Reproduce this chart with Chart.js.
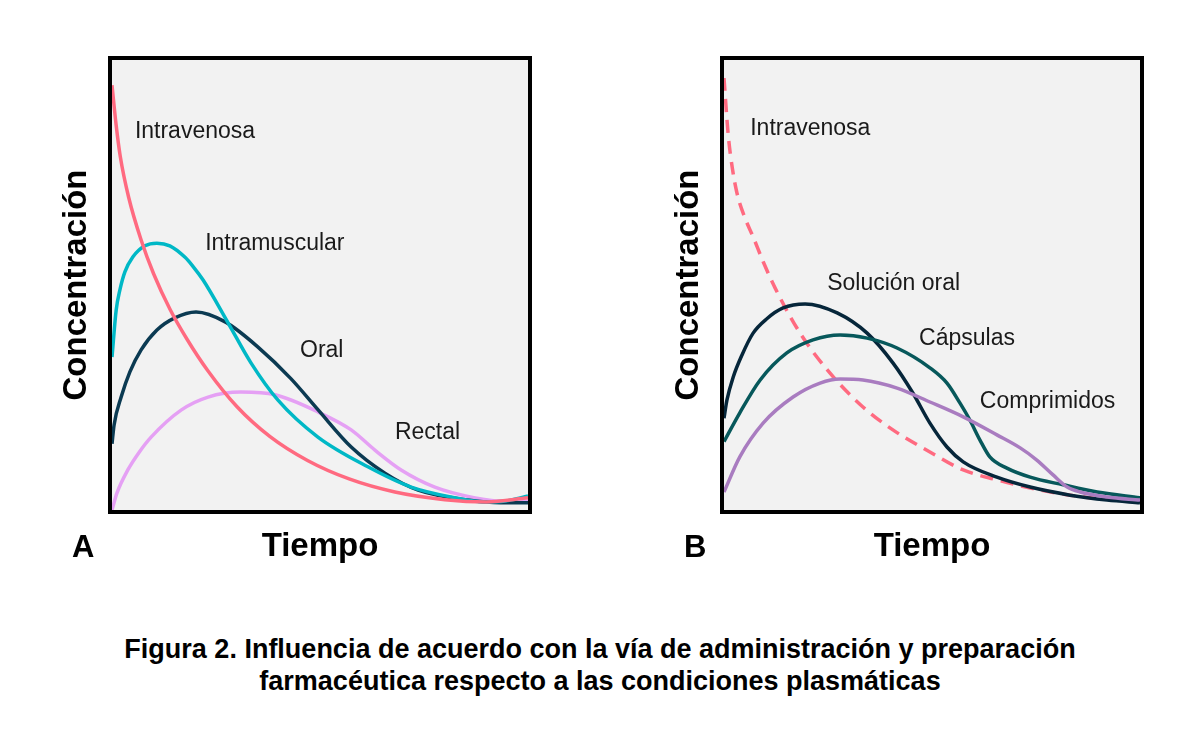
<!DOCTYPE html>
<html lang="es">
<head>
<meta charset="utf-8">
<title>Figura 2</title>
<script src="https://cdn.jsdelivr.net/npm/chart.js@4.4.0/dist/chart.umd.min.js"></script>
<style>
  html, body { margin: 0; padding: 0; background: #fff; width: 1200px; height: 748px; overflow: hidden; }
  canvas { position: absolute; top: 0; }
  #chartA { left: 0; }
  #chartB { left: 612px; }
  .caption { position: absolute; left: 0; width: 1200px; text-align: center; font: bold 27px "Liberation Sans", Arial, sans-serif; color: #000; line-height: 30px; white-space: nowrap; }
</style>
</head>
<body>
<canvas id="chartA" width="600" height="600"></canvas>
<canvas id="chartB" width="588" height="600"></canvas>
<div class="caption" style="top:634px">Figura 2. Influencia de acuerdo con la vía de administración y preparación</div>
<div class="caption" style="top:666px">farmacéutica respecto a las condiciones plasmáticas</div>
<script>
// Panel A: vía de administración (tiempo 0-100, concentración 0-100, unidades relativas)
const ivA_t = [0, 1, 2, 4, 7, 10, 14, 18, 23, 30, 38, 47, 57, 68, 80, 90, 100];
const ivA_c = [94.4, 85.5, 78.5, 69.5, 60, 52.5, 44.5, 38, 31, 23, 16.3, 11, 6.9, 4, 2.3, 1.8, 2.7];

const imA_t = [0, 1, 1.9, 3.1, 5, 7.9, 10.8, 13.9, 17.5, 19.5, 21.9, 27.9, 33.4, 39.9, 49.5, 61.5, 71.9, 81.5, 89.7, 94.5, 100];
const imA_c = [34, 44.4, 48.9, 52.9, 56.2, 58.7, 59.3, 58.7, 56.2, 54.1, 51.1, 41.6, 32.7, 24.4, 16.2, 9.6, 5.1, 2.9, 1.8, 2.0, 3.1];

const orA_t = [0, 0.5, 2.2, 4.3, 7, 10.8, 15.1, 20.2, 27.2, 35.1, 43, 49.5, 57.5, 65.6, 73.6, 85.6, 93.5, 100];
const orA_c = [14.7, 18.9, 25.1, 30.7, 35.6, 40, 42.7, 44, 41.8, 36.2, 29.2, 22.3, 14, 8.2, 4.4, 2.2, 1.6, 1.6];

const reA_t = [0, 1.2, 3.8, 6.5, 9.4, 16.6, 23.1, 31, 39.2, 49.5, 57.5, 63.2, 69.5, 77.6, 87.3, 93.5, 100];
const reA_c = [0, 3.8, 8.9, 12.8, 16.2, 22.2, 25.1, 26.2, 25.6, 21.8, 17.8, 13.3, 8.9, 5.1, 2.7, 2, 2];

// Panel B: preparación farmacéutica
const ivB_t = [0, 1, 2, 3.1, 5, 7, 9.5, 12.3, 18.3, 25.5, 33.4, 40.6, 49.5, 57.5, 65.6, 73.6, 83.2, 92.1, 100];
const ivB_c = [96, 83.5, 76, 70.5, 65, 60.7, 55, 49.3, 39.3, 30.4, 22.9, 17.8, 12.9, 8.9, 6.7, 4.9, 3.3, 2.4, 2.2];

const soB_t = [0, 0.7, 2.2, 4.3, 7, 10.3, 14.2, 19.5, 27.2, 34.4, 40.6, 45.4, 49.5, 53.6, 57.5, 65.6, 73.6, 83.2, 92.1, 100];
const soB_c = [20.4, 24.4, 29.5, 34.4, 39.3, 42.5, 44.9, 45.8, 43.8, 39.3, 32.7, 26, 19.3, 14, 10.7, 7.3, 5.1, 3.3, 2.2, 1.6];

const caB_t = [0, 3.8, 8.7, 15.1, 21.4, 27.9, 34.4, 41.6, 49.5, 53.6, 56.7, 59.1, 61.5, 63.9, 68, 73.6, 81.5, 89.7, 100];
const caB_c = [15.2, 21.6, 28.9, 34.9, 37.8, 38.9, 38.2, 36, 31.6, 28.2, 23.8, 20, 15.6, 11.8, 9.3, 7.3, 5.6, 4, 2.7];

const coB_t = [0, 3.8, 9.4, 16.6, 23.1, 27.9, 33.4, 41.6, 49.5, 57.5, 65.6, 71.2, 75.2, 79.1, 82.5, 85.6, 92.1, 100];
const coB_c = [4, 11.8, 19.3, 25.1, 28.2, 29.1, 28.9, 27.1, 24, 20.7, 16.7, 13.8, 11.1, 7.8, 5.1, 4, 2.9, 2.2];

const namesA = ["Intravenosa", "Intramuscular", "Oral", "Rectal"];
const namesB = ["Intravenosa", "Solución oral", "Cápsulas", "Comprimidos"];

// donde va cada rótulo (tiempo, concentración de la línea base del texto)
const labelAtA = [[5.5, 82.7], [22.4, 57.8], [45.2, 34.0], [68.0, 15.8]];
const labelAtB = [[6.3, 83.3], [24.8, 48.9], [46.9, 36.7], [61.5, 22.7]];

const pts = (t, c) => t.map((v, i) => ({ x: v, y: c[i] }));

// fondo gris, marco negro, rótulos de curvas y letra del panel
const frame = {
  id: "frame",
  beforeDraw(chart) {
    const { ctx, chartArea: a } = chart;
    ctx.save();
    ctx.fillStyle = "#f2f2f2";
    ctx.fillRect(a.left, a.top, a.right - a.left, a.bottom - a.top);
    ctx.restore();
  },
  afterDraw(chart, args, opts) {
    const { ctx, chartArea: a, scales: { x, y } } = chart;
    ctx.save();
    ctx.strokeStyle = "#000";
    ctx.lineWidth = 4;
    ctx.strokeRect(a.left - 2, a.top - 2, a.right - a.left + 4, a.bottom - a.top + 4);

    ctx.font = '23px "Liberation Sans"';
    ctx.fillStyle = "#1a1a1a";
    ctx.textBaseline = "alphabetic";
    opts.names.forEach((n, i) => {
      ctx.fillText(n, x.getPixelForValue(opts.at[i][0]), y.getPixelForValue(opts.at[i][1]));
    });

    ctx.font = 'bold 31px "Liberation Sans"';
    ctx.fillStyle = "#000";
    ctx.fillText(opts.letter, 72, 557);
    ctx.restore();
  }
};

const titleFont = { family: "Liberation Sans", size: 33, weight: "bold", lineHeight: "36px" };

function makeChart(id, sets, names, at, letter, padRight) {
  return new Chart(document.getElementById(id), {
    type: "line",
    data: { datasets: sets },
    options: {
      responsive: false,
      animation: false,
      layout: { padding: { left: 40, top: 60, right: padRight, bottom: 35 } },
      plugins: {
        legend: { display: false },
        tooltip: { enabled: false },
        frame: { names: names, at: at, letter: letter }
      },
      elements: {
        point: { radius: 0 },
        line: { borderWidth: 3.5, cubicInterpolationMode: "monotone" }
      },
      scales: {
        x: {
          type: "linear", min: 0, max: 100,
          ticks: { display: false },
          grid: { display: false, drawTicks: false },
          border: { display: false },
          title: { display: true, text: "Tiempo", color: "#000", font: titleFont, padding: { top: 19, bottom: 0 } }
        },
        y: {
          min: 0, max: 100,
          ticks: { display: false },
          grid: { display: false, drawTicks: false },
          border: { display: false },
          title: { display: true, text: "Concentración", color: "#000", font: titleFont, padding: { top: 19, bottom: 17 } }
        }
      }
    },
    plugins: [frame]
  });
}

makeChart("chartA", [
  { label: "Intravenosa", data: pts(ivA_t, ivA_c), borderColor: "#ff6a80" },
  { label: "Intramuscular", data: pts(imA_t, imA_c), borderColor: "#00b8c6" },
  { label: "Oral", data: pts(orA_t, orA_c), borderColor: "#0b3a52" },
  { label: "Rectal", data: pts(reA_t, reA_c), borderColor: "#e5a0f4" }
], namesA, labelAtA, "A", 72);

makeChart("chartB", [
  { label: "Comprimidos", data: pts(coB_t, coB_c), borderColor: "#a97cc0" },
  { label: "Cápsulas", data: pts(caB_t, caB_c), borderColor: "#07585b" },
  { label: "Solución oral", data: pts(soB_t, soB_c), borderColor: "#06263a" },
  { label: "Intravenosa", data: pts(ivB_t, ivB_c), borderColor: "#ff6a80", borderDash: [13, 8] }
], namesB, labelAtB, "B", 60);
</script>
</body>
</html>
